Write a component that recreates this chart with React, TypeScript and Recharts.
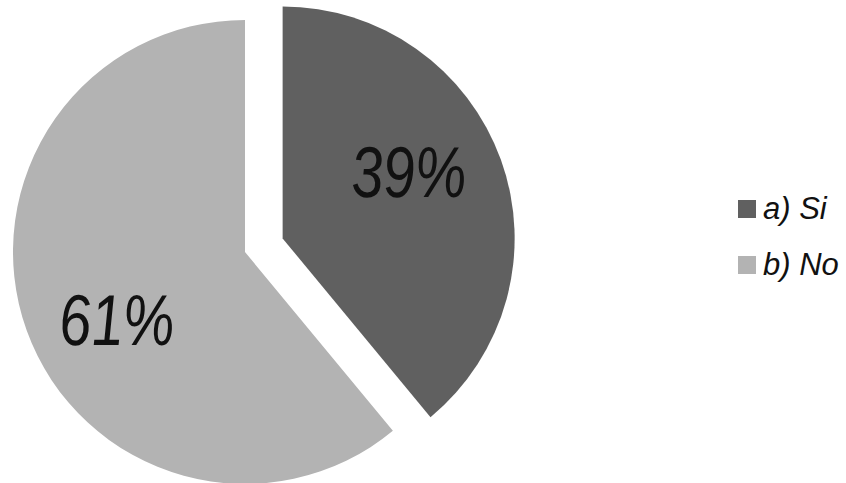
import { PieChart, Pie, Cell, Legend } from "recharts";

const categories = ["a) Si", "b) No"];
const values = [39, 61];
const colors = ["#606060", "#b3b3b3"];

const data = categories.map((name, i) => ({ name, value: values[i] }));

const RADIAN = Math.PI / 180;
const CX = 245;
const CY = 252;
const R = 232;
const EXPLODE = 40;

// mid angle of the first (exploded) slice, clockwise from 12 o'clock
const total = values.reduce((a, b) => a + b, 0);
const firstMid = ((values[0] / total) * 360) / 2;
const dx = EXPLODE * Math.sin(firstMid * RADIAN);
const dy = -EXPLODE * Math.cos(firstMid * RADIAN);

const makeLabel = (visibleIndex: number) => (props: any) => {
  const { cx, cy, midAngle, outerRadius, percent, index } = props;
  if (index !== visibleIndex) return null;
  const r = outerRadius * 0.62;
  const a = midAngle + 8;
  const x = cx + r * Math.cos(-a * RADIAN);
  const y = cy + r * Math.sin(-a * RADIAN) + 26;
  return (
    <text
      transform={`translate(${x},${y}) scale(0.8,1) skewX(4)`}
      textAnchor="middle"
      fill="#111"
      fontSize={72}
      fontStyle="italic"
      fontFamily="'Liberation Sans', Arial, sans-serif"
    >
      {`${Math.round(percent * 100)}%`}
    </text>
  );
};

const renderLegend = () => (
  <div style={{ fontFamily: "'Liberation Sans', Arial, sans-serif", fontStyle: "italic", fontSize: 31, color: "#111" }}>
    {categories.map((c, i) => (
      <div key={c} style={{ display: "flex", alignItems: "center", height: 56 }}>
        <span style={{ display: "inline-block", width: 18, height: 18, background: colors[i], marginRight: 7 }} />
        <span>{c}</span>
      </div>
    ))}
  </div>
);

export default function App() {
  return (
    <div style={{ position: "absolute", left: 0, top: 0, width: 846, height: 483, background: "#fff" }}>
      <PieChart width={846} height={483} margin={{ top: 0, right: 0, bottom: 0, left: 0 }}>
        <Pie
          data={data}
          dataKey="value"
          cx={CX}
          cy={CY}
          outerRadius={R}
          startAngle={90}
          endAngle={-270}
          stroke="none"
          isAnimationActive={false}
          labelLine={false}
          label={makeLabel(1)}
        >
          {data.map((d, i) => (
            <Cell key={d.name} fill={i === 1 ? colors[i] : "transparent"} />
          ))}
        </Pie>
        <Pie
          data={data}
          dataKey="value"
          cx={CX + dx}
          cy={CY + dy}
          outerRadius={R}
          startAngle={90}
          endAngle={-270}
          stroke="none"
          isAnimationActive={false}
          labelLine={false}
          label={makeLabel(0)}
        >
          {data.map((d, i) => (
            <Cell key={d.name} fill={i === 0 ? colors[i] : "transparent"} />
          ))}
        </Pie>
        <Legend
          content={renderLegend}
          wrapperStyle={{ position: "absolute", left: 738, top: 181, width: 108 }}
        />
      </PieChart>
    </div>
  );
}
